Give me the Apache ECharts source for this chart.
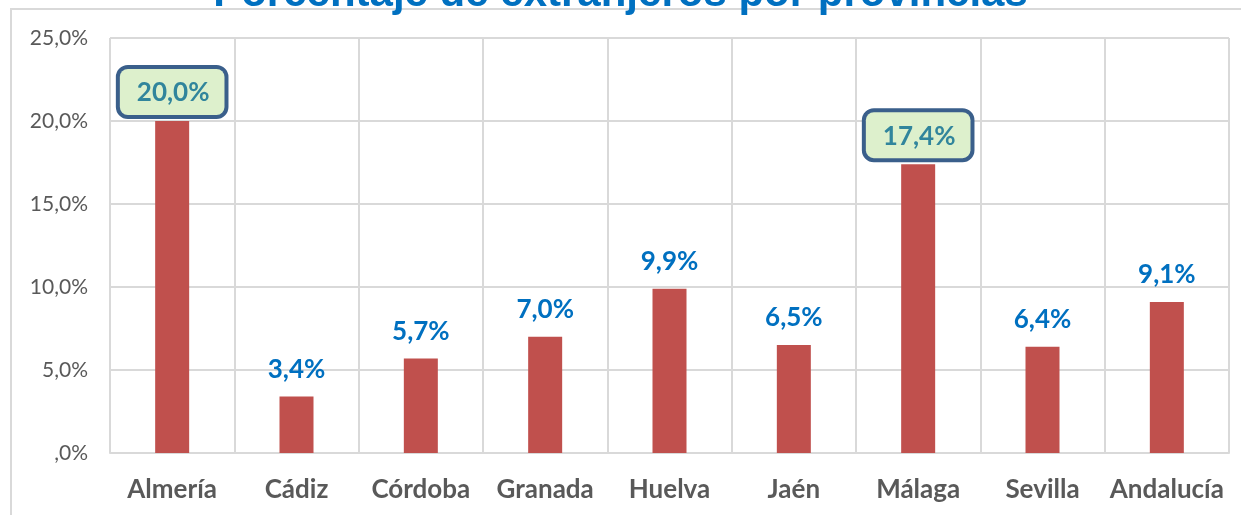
<!DOCTYPE html>
<html>
<head>
<meta charset="utf-8">
<script src="https://cdn.jsdelivr.net/npm/echarts@6/dist/echarts.min.js"></script>
<style>
  html, body { margin: 0; padding: 0; background: #fff; }
  #chart { width: 1241px; height: 515px; }
</style>
</head>
<body>
<div id="chart"></div>
<script>
const provincias = ['Almería', 'Cádiz', 'Córdoba', 'Granada', 'Huelva', 'Jaén', 'Málaga', 'Sevilla', 'Andalucía']
const porcentajes = [20.0, 3.4, 5.7, 7.0, 9.9, 6.5, 17.4, 6.4, 9.1]
const destacados = ['Almería', 'Málaga']

const fmt = (v) => {
  const s = v.toFixed(1).replace('.', ',')
  return (s.startsWith('0') ? s.slice(1) : s) + '%'
}

const myChart = echarts.init(document.getElementById('chart'))

const seriesData = porcentajes.map((v, i) => {
  const item = { value: v }
  if (destacados.includes(provincias[i])) {
    item.label = {
      color: '#31859C',
      backgroundColor: '#DDF0CC',
      borderColor: '#3A5F8B',
      borderWidth: 4,
      borderRadius: 8,
      padding: [11, 15, 9, 17],
      distance: 6,
    }
  }
  return item
})

const option = {
  title: {
    text: 'Porcentaje de extranjeros por provincias',
    left: 'center',
    top: -32,
    textStyle: {
      color: '#0070C0',
      fontFamily: 'Liberation Sans',
      fontWeight: 'bold',
      fontSize: 42,
    },
  },
  graphic: [
    {
      type: 'rect',
      shape: { x: 11, y: 9, width: 1300, height: 600 },
      style: { fill: 'none', stroke: '#D9D9D9', lineWidth: 2 },
      z: -1,
    },
  ],
  grid: { left: 110, right: 12, top: 38, bottom: 62 },
  xAxis: {
    type: 'category',
    data: provincias,
    axisLine: { lineStyle: { color: '#D9D9D9', width: 2 } },
    axisTick: { show: false },
    splitLine: { show: true, interval: 0, lineStyle: { color: '#D9D9D9', width: 2 } },
    axisLabel: {
      interval: 0,
      color: '#595959',
      fontFamily: 'Lato',
      fontWeight: 'bold',
      fontSize: 26,
      margin: 24,
    },
  },
  yAxis: {
    type: 'value',
    min: 0,
    max: 25,
    interval: 5,
    axisLine: { show: false },
    axisTick: { show: false },
    splitLine: { lineStyle: { color: '#D9D9D9', width: 2 } },
    axisLabel: {
      color: '#595959',
      fontFamily: 'Lato',
      fontSize: 21,
      margin: 22,
      formatter: fmt,
    },
  },
  series: [
    {
      type: 'bar',
      data: seriesData,
      barWidth: 34,
      itemStyle: { color: '#C0504D' },
      label: {
        show: true,
        position: 'top',
        distance: 14,
        color: '#0070C0',
        fontFamily: 'Lato',
        fontWeight: 'bold',
        fontSize: 26,
        formatter: (p) => fmt(p.value),
      },
    },
  ],
}
myChart.setOption(option)
</script>
</body>
</html>
